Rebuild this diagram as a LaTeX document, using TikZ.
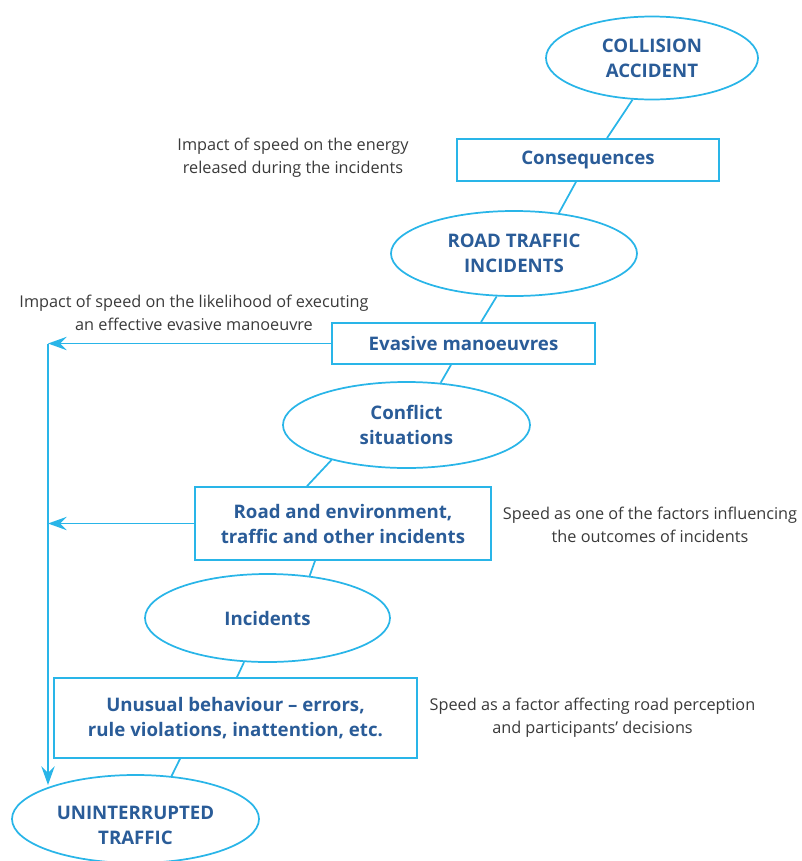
\documentclass[tikz,border=0pt]{standalone}
\usepackage{fontspec}
\setmainfont{Open Sans}
\usetikzlibrary{shapes.geometric,arrows.meta,calc}
\definecolor{edge}{RGB}{41,181,232}
\definecolor{lbl}{RGB}{42,92,152}
\definecolor{note}{RGB}{58,58,58}
\begin{document}
\begin{tikzpicture}[x=0.75pt,y=-0.75pt,
  oval/.style={ellipse,draw=edge,line width=1.3pt,inner sep=0pt,align=center,text=lbl,
    font=\bfseries\fontsize{14pt}{18.75pt}\selectfont},
  rbox/.style={rectangle,draw=edge,line width=1.3pt,inner sep=0pt,align=center,text=lbl,
    font=\bfseries\fontsize{14pt}{18.75pt}\selectfont},
  notetext/.style={align=center,text=note,inner sep=0pt,font=\fontsize{12.2pt}{17pt}\selectfont},
  conn/.style={draw=edge,line width=1.3pt},
  arr/.style={draw=edge,line width=1.3pt,-{Stealth[length=14pt,width=10pt,inset=5pt]}}]
\useasboundingbox (0,0) rectangle (801,861);
% nodes
\node[oval,minimum width=159pt,minimum height=62.25pt] (e1) at (652,58) {COLLISION\\ACCIDENT};
\node[rbox,minimum width=196.5pt,minimum height=31.5pt] (b1) at (588,160) {Consequences};
\node[oval,minimum width=184.5pt,minimum height=63.75pt] (e2) at (514,253.5) {ROAD TRAFFIC\\INCIDENTS};
\node[rbox,minimum width=197.25pt,minimum height=30.75pt] (b2) at (463.5,343.5) {Evasive manoeuvres};
\node[oval,minimum width=185.25pt,minimum height=64.5pt] (e3) at (406.5,425) {Conflict\\situations};
\node[rbox,minimum width=222pt,minimum height=54.75pt] (b3) at (343,523.5) {Road and environment,\\traffic and other incidents};
\node[oval,minimum width=183.75pt,minimum height=66pt] (e4) at (267.5,618) {Incidents};
\node[rbox,minimum width=272.25pt,minimum height=60pt] (b4) at (235.5,718) {Unusual behaviour -- errors,\\rule violations, inattention, etc.};
\node[oval,minimum width=185.25pt,minimum height=66pt] (e5) at (135.5,819) {\rule{0pt}{20pt}UNINTERRUPTED\\TRAFFIC};
% annotations
\node[notetext] (n1) at (293,158) {Impact of speed on the energy\\released during the incidents};
\node[notetext] (n2) at (194,313) {Impact of speed on the likelihood of executing\\an effective evasive manoeuvre};
\node[notetext] (n3) at (650,525) {Speed as one of the factors influencing\\the outcomes of incidents};
\node[notetext] (n4) at (592.5,718) {Speed as a factor affecting road perception\\and participants' decisions};
% connectors
\draw[conn] (e1.245) -- ($(b1.north)+(19,0)$);
\draw[conn] ($(b1.south)+(-12,0)$) -- (e2.42);
\draw[conn] (e2.248) -- ($(b2.north)+(17.5,0)$);
\draw[conn] ($(b2.south)+(-12.5,0)$) -- (e3.51);
\draw[conn] (e3.205) -- ($(b3.north)+(-36,0)$);
\draw[conn] ($(b3.south)+(-28,0)$) -- (e4.45.7);
\draw[conn] (e4.242.5) -- ($(b4.north)+(1.5,0)$);
\draw[conn] ($(b4.south)+(-55.5,0)$) -- (e5.50.7);
% feedback arrows
\coordinate (corner) at (48,343.5);
\coordinate (tip) at (48,785);
\draw[arr] (b2.west) -- (corner);
\draw[arr] (b3.west) -- (corner |- b3.west);
\draw[arr] (corner) -- (tip);
\end{tikzpicture}
\end{document}
